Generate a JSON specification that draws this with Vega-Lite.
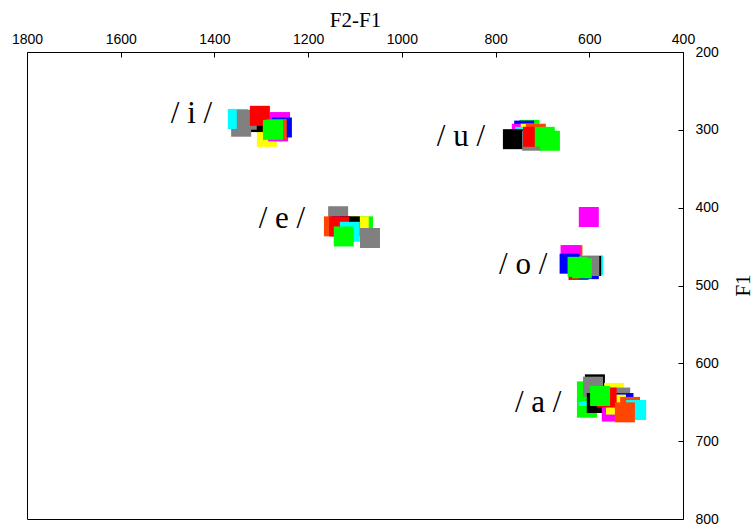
{
  "$schema": "https://vega.github.io/schema/vega-lite/v6.json",
  "width": 656,
  "height": 467,
  "autosize": {"type": "none"},
  "padding": {"left": 27, "top": 52, "right": 71, "bottom": 10},
  "background": "white",
  "config": {
    "view": {"stroke": "black", "strokeWidth": 1},
    "axis": {
      "domain": false,
      "grid": false,
      "format": "d",
      "labelFont": "Liberation Sans",
      "labelFontSize": 14,
      "labelColor": "black",
      "labelFlush": false,
      "labelOverlap": false,
      "tickColor": "black",
      "tickSize": -5,
      "titleFont": "Liberation Serif",
      "titleFontSize": 21,
      "titleFontWeight": "normal",
      "titleColor": "black"
    }
  },
  "datasets": {
    "tokens": [
      {"vowel": "i", "speaker": "s7", "f2f1": 1288, "f1": 309},
      {"vowel": "i", "speaker": "s7", "f2f1": 1288, "f1": 291},
      {"vowel": "i", "speaker": "s1", "f2f1": 1318, "f1": 290},
      {"vowel": "i", "speaker": "s8", "f2f1": 1343, "f1": 296},
      {"vowel": "i", "speaker": "s5", "f2f1": 1350, "f1": 286},
      {"vowel": "i", "speaker": "s8", "f2f1": 1331, "f1": 287},
      {"vowel": "i", "speaker": "s2", "f2f1": 1303, "f1": 282},
      {"vowel": "i", "speaker": "s6", "f2f1": 1260, "f1": 290},
      {"vowel": "i", "speaker": "s6", "f2f1": 1264, "f1": 302},
      {"vowel": "i", "speaker": "s4", "f2f1": 1256, "f1": 297},
      {"vowel": "i", "speaker": "s9", "f2f1": 1267, "f1": 299},
      {"vowel": "i", "speaker": "s3", "f2f1": 1275, "f1": 300},

      {"vowel": "u", "speaker": "s3", "f2f1": 728, "f1": 300},
      {"vowel": "u", "speaker": "s4", "f2f1": 739, "f1": 301},
      {"vowel": "u", "speaker": "s6", "f2f1": 744, "f1": 305},
      {"vowel": "u", "speaker": "s7", "f2f1": 725, "f1": 305},
      {"vowel": "u", "speaker": "s5", "f2f1": 737, "f1": 309},
      {"vowel": "u", "speaker": "s9", "f2f1": 714, "f1": 305},
      {"vowel": "u", "speaker": "s1", "f2f1": 763, "f1": 312},
      {"vowel": "u", "speaker": "s8", "f2f1": 722, "f1": 314},
      {"vowel": "u", "speaker": "s2", "f2f1": 720, "f1": 309},
      {"vowel": "u", "speaker": "s3", "f2f1": 695, "f1": 309},
      {"vowel": "u", "speaker": "s3", "f2f1": 684, "f1": 314},

      {"vowel": "e", "speaker": "s8", "f2f1": 1136, "f1": 411},
      {"vowel": "e", "speaker": "s9", "f2f1": 1145, "f1": 424},
      {"vowel": "e", "speaker": "s4", "f2f1": 1128, "f1": 424},
      {"vowel": "e", "speaker": "s3", "f2f1": 1083, "f1": 424},
      {"vowel": "e", "speaker": "s7", "f2f1": 1092, "f1": 424},
      {"vowel": "e", "speaker": "s1", "f2f1": 1111, "f1": 424},
      {"vowel": "e", "speaker": "s2", "f2f1": 1134, "f1": 424},
      {"vowel": "e", "speaker": "s5", "f2f1": 1111, "f1": 431},
      {"vowel": "e", "speaker": "s3", "f2f1": 1124, "f1": 437},
      {"vowel": "e", "speaker": "s8", "f2f1": 1068, "f1": 439},

      {"vowel": "o", "speaker": "s6", "f2f1": 601, "f1": 412},
      {"vowel": "o", "speaker": "s9", "f2f1": 636, "f1": 461},
      {"vowel": "o", "speaker": "s6", "f2f1": 640, "f1": 461},
      {"vowel": "o", "speaker": "s4", "f2f1": 642, "f1": 472},
      {"vowel": "o", "speaker": "s2", "f2f1": 623, "f1": 480},
      {"vowel": "o", "speaker": "s4", "f2f1": 601, "f1": 479},
      {"vowel": "o", "speaker": "s5", "f2f1": 592, "f1": 474},
      {"vowel": "o", "speaker": "s1", "f2f1": 596, "f1": 475},
      {"vowel": "o", "speaker": "s8", "f2f1": 600, "f1": 475},
      {"vowel": "o", "speaker": "s3", "f2f1": 616, "f1": 478},
      {"vowel": "o", "speaker": "s3", "f2f1": 625, "f1": 476},

      {"vowel": "a", "speaker": "s1", "f2f1": 588, "f1": 627},
      {"vowel": "a", "speaker": "s3", "f2f1": 605, "f1": 657},
      {"vowel": "a", "speaker": "s5", "f2f1": 601, "f1": 642},
      {"vowel": "a", "speaker": "s3", "f2f1": 605, "f1": 636},
      {"vowel": "a", "speaker": "s8", "f2f1": 592, "f1": 630},
      {"vowel": "a", "speaker": "s7", "f2f1": 547, "f1": 638},
      {"vowel": "a", "speaker": "s8", "f2f1": 534, "f1": 644},
      {"vowel": "a", "speaker": "s4", "f2f1": 527, "f1": 651},
      {"vowel": "a", "speaker": "s4", "f2f1": 564, "f1": 651},
      {"vowel": "a", "speaker": "s1", "f2f1": 584, "f1": 651},
      {"vowel": "a", "speaker": "s6", "f2f1": 552, "f1": 662},
      {"vowel": "a", "speaker": "s7", "f2f1": 543, "f1": 653},
      {"vowel": "a", "speaker": "s2", "f2f1": 563, "f1": 644},
      {"vowel": "a", "speaker": "s3", "f2f1": 577, "f1": 642},
      {"vowel": "a", "speaker": "s9", "f2f1": 513, "f1": 656},
      {"vowel": "a", "speaker": "s5", "f2f1": 500, "f1": 660},
      {"vowel": "a", "speaker": "s9", "f2f1": 524, "f1": 663}
    ],
    "vowels": [
      {"label": "/ i /", "f2f1": 1449, "f1": 280},
      {"label": "/ u /", "f2f1": 874, "f1": 309},
      {"label": "/ e /", "f2f1": 1256, "f1": 415},
      {"label": "/ o /", "f2f1": 741, "f1": 474},
      {"label": "/ a /", "f2f1": 709, "f1": 651}
    ]
  },
  "encoding": {
    "x": {
      "field": "f2f1",
      "type": "quantitative",
      "scale": {"domain": [400, 1800], "reverse": true, "nice": false, "zero": false},
      "axis": {
        "orient": "top",
        "values": [400, 600, 800, 1000, 1200, 1400, 1600, 1800],
        "labelPadding": 11,
        "title": "F2-F1",
        "titleX": 328,
        "titleY": -26,
        "titleAlign": "center",
        "titleBaseline": "alphabetic"
      }
    },
    "y": {
      "field": "f1",
      "type": "quantitative",
      "scale": {"domain": [200, 800], "reverse": true, "nice": false, "zero": false},
      "axis": {
        "orient": "right",
        "values": [200, 300, 400, 500, 600, 700, 800],
        "labelPadding": 17,
        "title": "F1",
        "titleAngle": -90,
        "titleX": 60,
        "titleY": 233,
        "titleAlign": "center",
        "titleBaseline": "middle"
      }
    }
  },
  "layer": [
    {
      "data": {"name": "tokens"},
      "mark": {"type": "point", "shape": "square", "filled": true, "size": 400, "opacity": 1, "strokeWidth": 0},
      "encoding": {
        "color": {
          "field": "speaker",
          "type": "nominal",
          "scale": {
            "domain": ["s1", "s2", "s3", "s4", "s5", "s6", "s7", "s8", "s9"],
            "range": ["#000000", "#ff0000", "#00ff00", "#0000ff", "#00ffff", "#ff00ff", "#ffff00", "#808080", "#ff4500"]
          },
          "legend": null
        }
      }
    },
    {
      "data": {"name": "vowels"},
      "mark": {"type": "text", "font": "Liberation Serif", "fontSize": 31, "align": "center", "baseline": "middle", "color": "black"},
      "encoding": {"text": {"field": "label"}}
    }
  ]
}
